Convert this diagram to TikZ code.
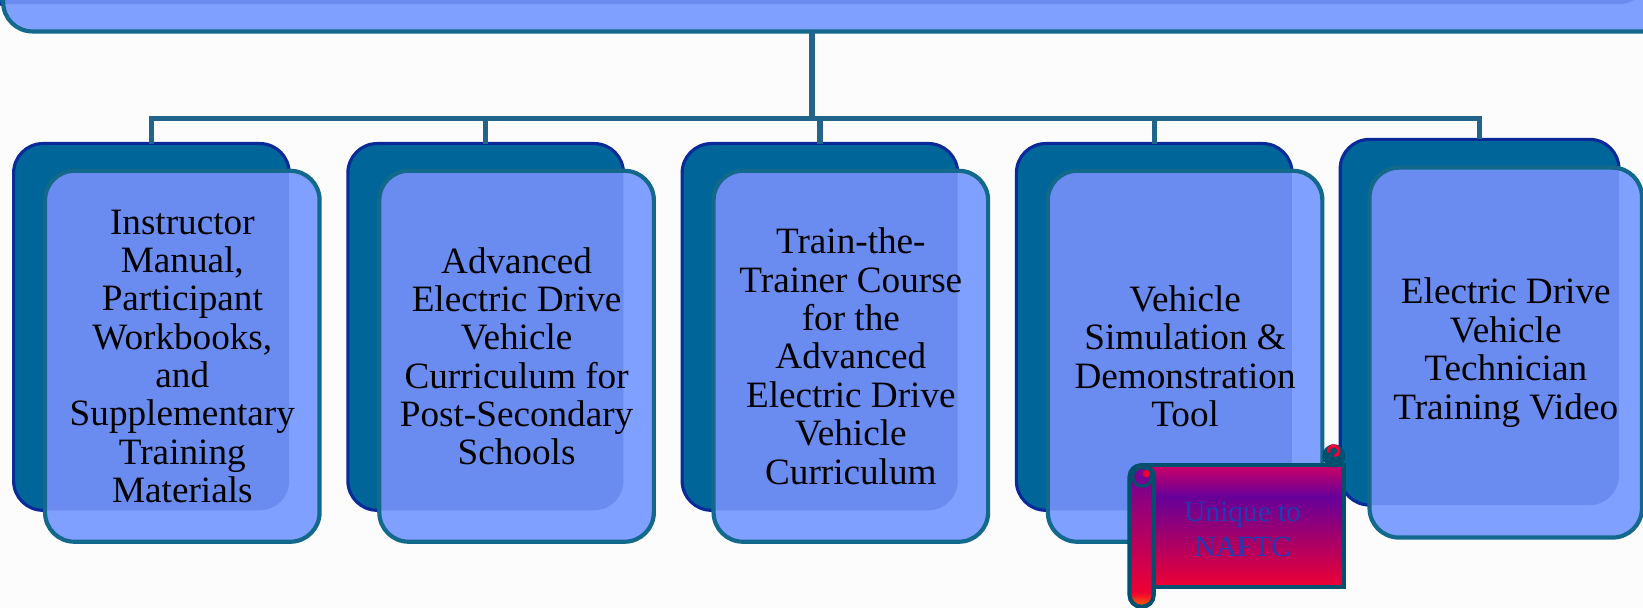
\documentclass[tikz,border=0pt]{standalone}
\usepackage{fontspec}
\setmainfont{Liberation Serif}
\definecolor{backfill}{HTML}{006699}
\definecolor{backline}{HTML}{0A2A9A}
\definecolor{frontfill}{HTML}{80A0FF}
\definecolor{overfill}{HTML}{6A8CF0}
\definecolor{frontline}{HTML}{13698C}
\definecolor{conn}{HTML}{22658A}
\definecolor{scrollline}{HTML}{00506E}
\definecolor{scrolltext}{HTML}{1E3CB4}
\definecolor{bgwhite}{HTML}{FCFCFD}
\definecolor{smag}{HTML}{CC0066}
\definecolor{spurple}{HTML}{660099}
\definecolor{sred}{HTML}{EE0033}
\definecolor{sorange}{HTML}{FF6600}
\definecolor{rollpurple}{HTML}{7A0090}
\pgfdeclareverticalshading{scrollbody}{100bp}{color(0bp)=(sred); color(25bp)=(sred); color(62bp)=(spurple); color(75bp)=(smag); color(100bp)=(smag)}
\pgfdeclareverticalshading{rollshade}{100bp}{color(0bp)=(sorange); color(25bp)=(sorange); color(30bp)=(sred); color(70bp)=(rollpurple); color(75bp)=(rollpurple); color(100bp)=(rollpurple)}
\begin{document}
\begin{tikzpicture}[x=1pt,y=-1pt,
  backbox/.style={draw=backline, line width=3pt, fill=backfill, rounded corners=28pt, inner sep=0pt, outer sep=0pt},
  frontbox/.style={draw=frontline, line width=4pt, fill=frontfill, rounded corners=28pt, inner sep=0pt, outer sep=0pt,
     align=center, text=black, font=\fontsize{35.5pt}{36.6pt}\selectfont},
  overlap/.style={path picture={\fill[overfill, rounded corners=28pt] (#1.south west) rectangle (#1.north east);}},
  connline/.style={draw=conn, line width=5pt, line join=miter},
  scrollframe/.style={draw=scrollline, line width=4pt},
  scrolllabel/.style={align=center, text=scrolltext, font=\fontsize{28pt}{33pt}\selectfont, inner sep=0pt}
]
\useasboundingbox[fill=bgwhite] (0,0) rectangle (1568,580);

% top box
\node[backbox, anchor=south west, minimum width=1600pt, minimum height=150pt] (tb) at (-27,4) {};
\node[frontbox, overlap=tb, anchor=south west, minimum width=1700pt, minimum height=150pt] (top) at (3,30) {};

% groups
\node[backbox, minimum width=263pt, minimum height=350pt] (b1) at (144.5,312) {};
\node[frontbox, overlap=b1, minimum width=262pt, minimum height=354pt] (f1) at (174,340)
  {Instructor\\Manual,\\Participant\\Workbooks,\\and\\Supplementary\\Training\\Materials};

\node[backbox, minimum width=263pt, minimum height=350pt] (b2) at (463.5,312) {};
\node[frontbox, overlap=b2, minimum width=262pt, minimum height=354pt] (f2) at (493,340)
  {Advanced\\Electric Drive\\Vehicle\\Curriculum for\\Post-Secondary\\Schools};

\node[backbox, minimum width=263pt, minimum height=350pt] (b3) at (782.5,312) {};
\node[frontbox, overlap=b3, minimum width=262pt, minimum height=354pt] (f3) at (812,340)
  {Train-the-\\Trainer Course\\for the\\Advanced\\Electric Drive\\Vehicle\\Curriculum};

\node[backbox, minimum width=263pt, minimum height=350pt] (b4) at (1101.5,312) {};
\node[frontbox, overlap=b4, minimum width=262pt, minimum height=354pt] (f4) at (1131,340)
  {Vehicle\\Simulation \&\\Demonstration\\Tool};

\node[backbox, minimum width=266pt, minimum height=349pt] (b5) at (1412,307.5) {};
\node[frontbox, overlap=b5, minimum width=260pt, minimum height=353pt] (f5) at (1437,336.5)
  {Electric Drive\\Vehicle\\Technician\\Training Video};

% connectors
\coordinate (j) at (775,113);
\draw[connline] (j |- top.south) -- (j);
\draw[connline] (b1.north) -- (b1.north |- j) -- (b5.north |- j) -- (b5.north);
\draw[connline] (b2.north) -- (b2.north |- j);
\draw[connline] (b3.north) -- (b3.north |- j);
\draw[connline] (b4.north) -- (b4.north |- j);

% scroll
\shade[shading=scrollbody, scrollframe] (1090,444) rectangle (1283,560);
\filldraw[scrollline, line width=2pt] (1273,435) circle (10pt);
\draw[sred, line width=3pt] (1268,432) arc[start angle=200, end angle=-80, radius=5pt];
\shade[shading=rollshade, scrollframe, rounded corners=11pt] (1078,444) rectangle (1101,579);
\draw[scrollline, line width=3pt, fill=rollpurple] (1090,455) circle (9pt);
\fill[sred] (1094,452) circle (3.5pt);
\node[scrolllabel] (sc) at (1186,505) {Unique to\\NAFTC};
\end{tikzpicture}
\end{document}
